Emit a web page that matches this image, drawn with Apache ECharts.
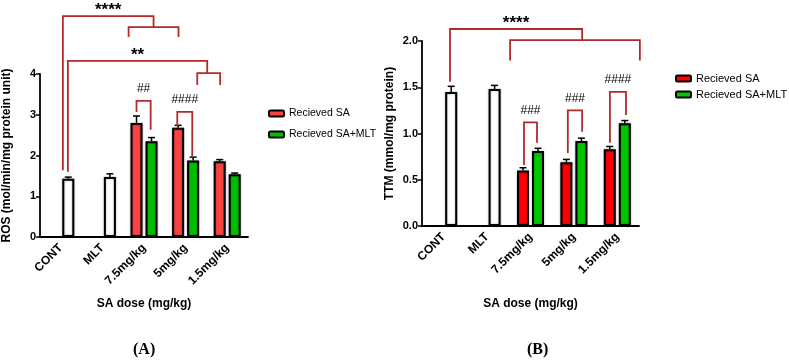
<!DOCTYPE html>
<html>
<head>
<meta charset="utf-8">
<script src="https://cdn.jsdelivr.net/npm/echarts@6/dist/echarts.min.js"></script>
<style>
html, body { margin: 0; padding: 0; background: #fff; }
#main { width: 789px; height: 364px; }
</style>
</head>
<body>
<div id="main"></div>
<script>
// 分组
var doses = ["CONT", "MLT", "7.5mg/kg", "5mg/kg", "1.5mg/kg"];

// (A) ROS
var rosCtrl = [1.43, 1.47];          // CONT, MLT
var rosCtrlErr = [0.04, 0.08];
var rosSA = [2.80, 2.68, 1.86];      // 7.5, 5, 1.5
var rosSAErr = [0.17, 0.06, 0.04];
var rosSAMLT = [2.35, 1.88, 1.54];
var rosSAMLTErr = [0.09, 0.08, 0.03];

// (B) TTM
var ttmCtrl = [1.45, 1.48];
var ttmCtrlErr = [0.06, 0.04];
var ttmSA = [0.60, 0.69, 0.83];
var ttmSAErr = [0.03, 0.03, 0.03];
var ttmSAMLT = [0.81, 0.92, 1.11];
var ttmSAMLTErr = [0.03, 0.03, 0.03];

// 显著性标记: [x1, x2, 顶部, 左端, 右端, 文字]  (x 为分类坐标)
var marksA = [
  [0.05, 2.23, 5.42, 1.64, 5.15, "****"],
  [1.63, 2.83, 5.15, 4.91, 4.91, ""],
  [0.17, 3.52, 4.32, 1.60, 4.02, "**"],
  [3.28, 3.83, 4.02, 3.73, 3.73, ""],
  [1.82, 2.16, 3.34, 3.07, 2.63, "##"],
  [2.80, 3.16, 3.07, 2.72, 1.99, "####"]
];
var marksB = [
  [0.145, 3.19, 2.13, 1.56, 2.01, "****"],
  [1.53, 4.52, 2.01, 1.79, 1.79, ""],
  [1.85, 2.15, 1.12, 0.66, 0.90, "###"],
  [2.86, 3.19, 1.25, 0.79, 1.02, "###"],
  [3.83, 4.20, 1.45, 0.90, 1.20, "####"]
];

var BAR_W = 12;
var SLOT = 7.5;          // 半个(柱宽+间隙)
var markColor = "#b42a2a";
var FONT = "Liberation Sans, Arial, sans-serif";

function mainData(ctrl, vals, withCtrl) {
  var out = [];
  for (var i = 0; i < 2; i++) {
    out.push(withCtrl ? { value: ctrl[i], itemStyle: { color: "#fff" } } : "-");
  }
  return out.concat(vals);
}

function errData(ctrl, ctrlErr, sa, saErr, mlt, mltErr) {
  var out = [];
  for (var i = 0; i < ctrl.length; i++) out.push([i, ctrl[i], ctrlErr[i], 1]);
  for (var j = 0; j < sa.length; j++) {
    out.push([j + 2, sa[j], saErr[j], -1]);
    out.push([j + 2, mlt[j], mltErr[j], 1]);
  }
  return out;
}

function errItem(params, api) {
  var p0 = api.coord([api.value(0), api.value(1)]);
  var p1 = api.coord([api.value(0), api.value(1) + api.value(2)]);
  var x = p0[0] + api.value(3) * SLOT;
  var st = { stroke: "#000", lineWidth: 1.5 };
  return {
    type: "group",
    children: [
      { type: "line", shape: { x1: x, y1: p0[1], x2: x, y2: p1[1] }, style: st },
      { type: "line", shape: { x1: x - 3.5, y1: p1[1], x2: x + 3.5, y2: p1[1] }, style: st }
    ]
  };
}

function px(api, f, v) {
  var i = Math.max(0, Math.min(4, Math.round(f)));
  var bw = api.size([1, 0])[0];
  var p = api.coord([i, v]);
  return [p[0] + (f - i) * bw, p[1]];
}

function markRender(marks) {
  return function (params, api) {
    var m = marks[params.dataIndex];
    var a = px(api, m[0], m[2]);
    var b = px(api, m[1], m[2]);
    var al = px(api, m[0], m[3]);
    var br = px(api, m[1], m[4]);
    var st = { stroke: markColor, lineWidth: 1.8, fill: null };
    var kids = [{
      type: "polyline",
      shape: { points: [al, a, b, br] },
      style: st
    }];
    if (m[5]) {
      var star = m[5].charAt(0) === "*";
      kids.push({
        type: "text",
        x: (a[0] + b[0]) / 2,
        y: a[1] - (star ? 6 : 12),
        style: {
          text: m[5],
          fill: "#000",
          font: (star ? "bold 17px " : "12px ") + FONT,
          align: "center", verticalAlign: "middle",
          textAlign: "center", textVerticalAlign: "middle"
        }
      });
    }
    return { type: "group", children: kids };
  };
}

var axisText = { color: "#000", fontWeight: "bold", fontSize: 11, fontFamily: FONT };
var axisLine = { show: true, lineStyle: { color: "#000", width: 1.8 } };

function xAx(gi, gap) {
  return {
    type: "category", gridIndex: gi, data: doses,
    axisLine: axisLine, axisTick: { show: false },
    axisLabel: Object.assign({}, axisText, { rotate: 45, margin: 9, interval: 0, fontSize: 12 }),
    name: "SA dose (mg/kg)", nameLocation: "middle", nameGap: gap,
    nameTextStyle: { color: "#000", fontWeight: "bold", fontSize: 12, fontFamily: FONT }
  };
}

function yAx(gi, max, step, name, gap, dec) {
  return {
    type: "value", gridIndex: gi, min: 0, max: max, interval: step,
    axisLine: axisLine,
    axisTick: { show: true, length: 4, lineStyle: { color: "#000", width: 1.5 } },
    splitLine: { show: false },
    axisLabel: Object.assign({ margin: 4, formatter: function (v) { return v.toFixed(dec); } }, axisText),
    name: name, nameLocation: "middle", nameGap: gap, nameRotate: 90,
    nameTextStyle: { color: "#000", fontWeight: "bold", fontSize: 12, fontFamily: FONT }
  };
}

var barBase = {
  type: "bar", barWidth: BAR_W, barGap: "25%",
  itemStyle: { borderColor: "#000", borderWidth: 2, shadowColor: "rgba(0,0,0,0.35)", shadowBlur: 2 }
};

function bar(name, xi, data, color) {
  var s = Object.assign({}, barBase, { name: name, xAxisIndex: xi, yAxisIndex: xi, data: data });
  s.itemStyle = Object.assign({}, barBase.itemStyle, { color: color });
  return s;
}

var legendNames = { saA: "Recieved SA", mltA: "Recieved SA+MLT", saB: "Recieved SA", mltB: "Recieved SA+MLT" };

var option = {
  backgroundColor: "#fff",
  animation: false,
  grid: [
    { left: 39, top: 74, width: 209, height: 163 },
    { left: 422, top: 41, width: 217, height: 185 }
  ],
  xAxis: [xAx(0, 61), xAx(1, 72)],
  yAxis: [
    yAx(0, 4, 1, "ROS (mol/min/mg protein unit)", 27, 0),
    yAx(1, 2, 0.5, "TTM (mmol/mg protein)", 26, 1)
  ],
  legend: [
    {
      data: ["saA", "mltA"], orient: "vertical", left: 263, top: 103,
      itemWidth: 15, itemHeight: 6, itemGap: 10, itemTextGap: 9,
      itemStyle: { borderColor: "#000", borderWidth: 2 },
      formatter: function (n) { return legendNames[n]; },
      textStyle: { color: "#000", fontSize: 10.5, fontFamily: FONT }
    },
    {
      data: ["saB", "mltB"], orient: "vertical", left: 670, top: 68,
      itemWidth: 15, itemHeight: 6, itemGap: 5, itemTextGap: 10,
      itemStyle: { borderColor: "#000", borderWidth: 2 },
      formatter: function (n) { return legendNames[n]; },
      textStyle: { color: "#000", fontSize: 11, fontFamily: FONT }
    }
  ],
  series: [
    bar("saA", 0, mainData(null, rosSA, false), "#f94343"),
    bar("mltA", 0, mainData(rosCtrl, rosSAMLT, true), "#00bf00"),
    bar("saB", 1, mainData(null, ttmSA, false), "#ff0000"),
    bar("mltB", 1, mainData(ttmCtrl, ttmSAMLT, true), "#00c800"),
    {
      type: "custom", xAxisIndex: 0, yAxisIndex: 0, clip: false, z: 1,
      encode: { x: 0, y: 1 }, renderItem: errItem,
      data: errData(rosCtrl, rosCtrlErr, rosSA, rosSAErr, rosSAMLT, rosSAMLTErr)
    },
    {
      type: "custom", xAxisIndex: 1, yAxisIndex: 1, clip: false, z: 1,
      encode: { x: 0, y: 1 }, renderItem: errItem,
      data: errData(ttmCtrl, ttmCtrlErr, ttmSA, ttmSAErr, ttmSAMLT, ttmSAMLTErr)
    },
    {
      type: "custom", xAxisIndex: 0, yAxisIndex: 0, clip: false, z: 5,
      encode: { x: 0, y: 1 }, renderItem: markRender(marksA),
      data: marksA.map(function (m) { return [2, m[2]]; })
    },
    {
      type: "custom", xAxisIndex: 1, yAxisIndex: 1, clip: false, z: 5,
      encode: { x: 0, y: 1 }, renderItem: markRender(marksB),
      data: marksB.map(function (m) { return [2, m[2]]; })
    }
  ],
  graphic: [
    { type: "text", left: 133, top: 342, style: { text: "(A)", fill: "#000", font: "bold 16px Liberation Serif, Times New Roman, serif" } },
    { type: "text", left: 527, top: 342, style: { text: "(B)", fill: "#000", font: "bold 16px Liberation Serif, Times New Roman, serif" } }
  ]
};

var chart = echarts.init(document.getElementById("main"));
chart.setOption(option);
window.addEventListener("resize", function () { chart.resize(); });
</script>
</body>
</html>
